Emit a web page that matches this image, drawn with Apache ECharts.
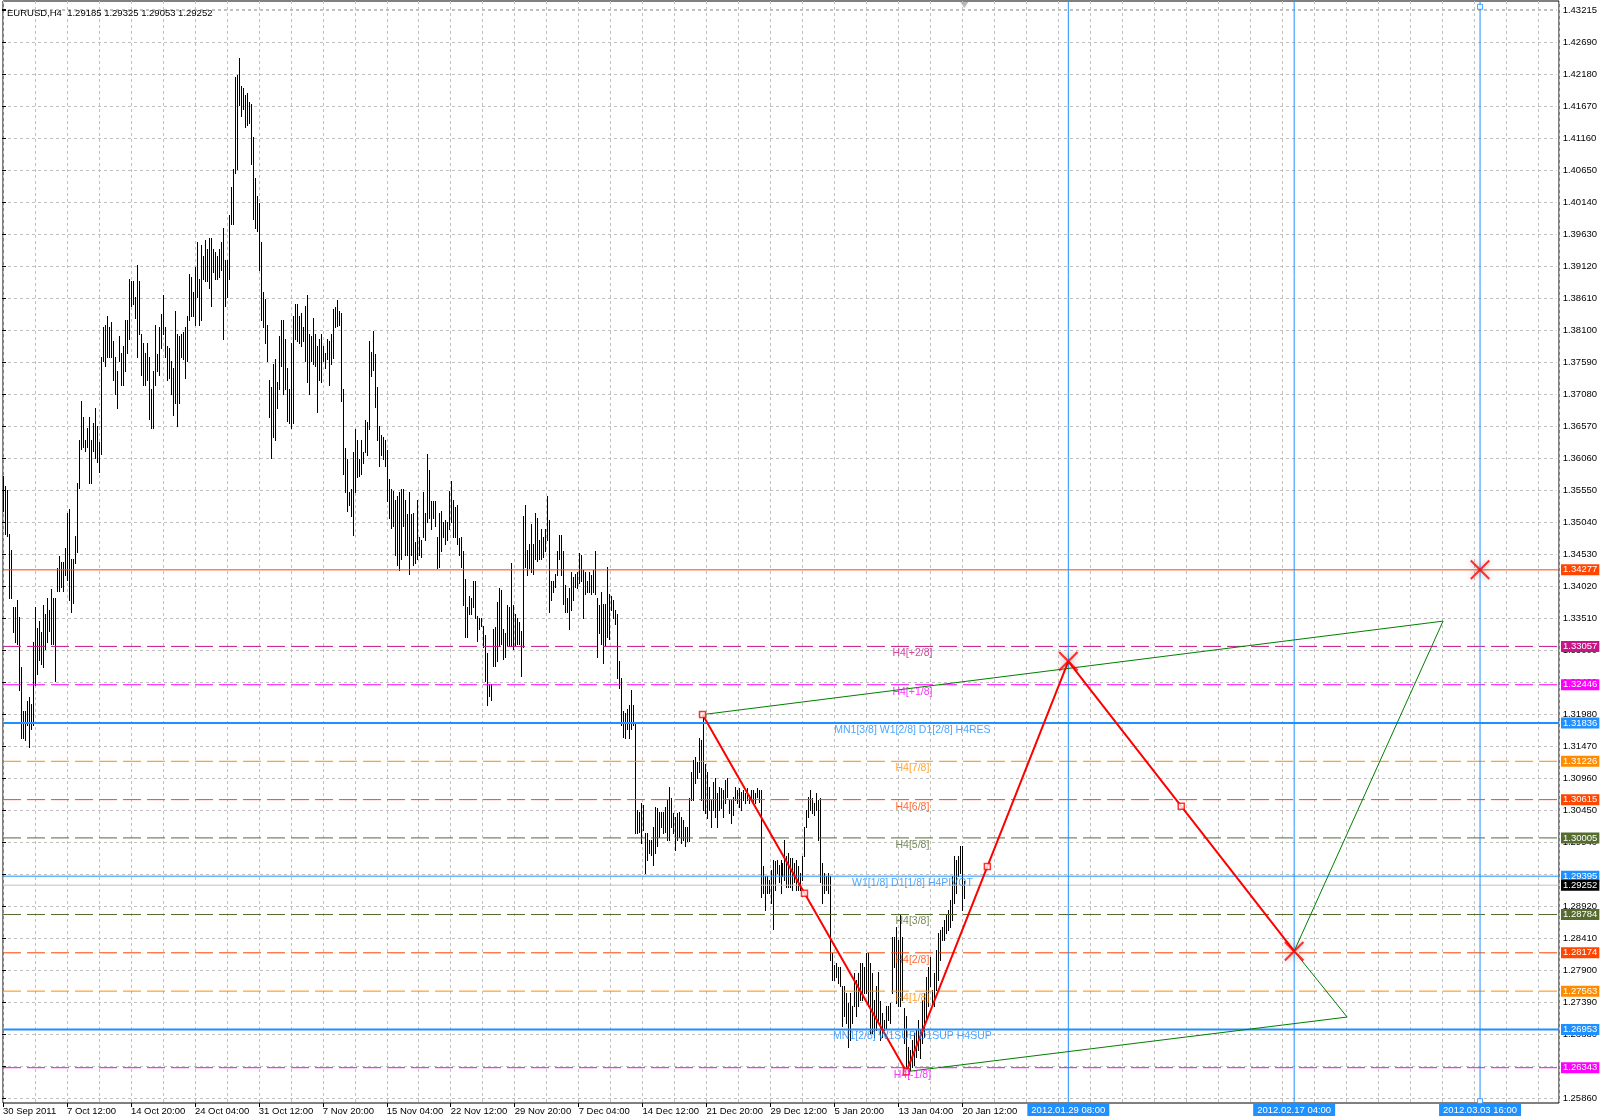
<!DOCTYPE html>
<html><head><meta charset="utf-8">
<script src="https://cdn.jsdelivr.net/npm/echarts@6/dist/echarts.min.js"></script>
<style>html,body{margin:0;padding:0;background:#fff}#c{width:1600px;height:1120px}</style>
</head><body><div id="c"></div>
<script>
const chartTitle = 'EURUSD,H4  1.29185 1.29325 1.29053 1.29252';

const barHigh = [
1.3577,1.3562,1.3555,1.3485,1.3460,1.3368,1.3368,1.3379,1.3353,1.3273,
1.3203,1.3203,1.3218,1.3225,1.3214,1.3313,1.3368,1.3335,1.3346,1.3328,
1.3372,1.3357,1.3383,1.3364,1.3397,1.3383,1.3383,1.3430,1.3449,1.3441,
1.3441,1.3463,1.3518,1.3525,1.3445,1.3445,1.3481,1.3566,1.3635,1.3697,
1.3672,1.3635,1.3654,1.3672,1.3635,1.3661,1.3686,1.3657,1.3632,1.3767,
1.3815,1.3818,1.3833,1.3815,1.3822,1.3793,1.3767,1.3745,1.3800,1.3774,
1.3785,1.3826,1.3826,1.3891,1.3888,1.3888,1.3862,1.3913,1.3888,1.3804,
1.3789,1.3774,1.3789,1.3767,1.3716,1.3745,1.3818,1.3771,1.3815,1.3836,
1.3866,1.3815,1.3785,1.3782,1.3760,1.3749,1.3840,1.3804,1.3800,1.3804,
1.3807,1.3815,1.3833,1.3899,1.3895,1.3870,1.3910,1.3950,1.3891,1.3946,
1.3928,1.3954,1.3939,1.3957,1.3957,1.3939,1.3935,1.3928,1.3939,1.3950,
1.3972,1.3921,1.3921,1.3994,1.4038,1.4067,1.4213,1.4217,1.4244,1.4199,
1.4195,1.4184,1.4188,1.4173,1.4170,1.4118,1.4052,1.4023,1.4012,1.3950,
1.3870,1.3859,1.3818,1.3730,1.3719,1.3756,1.3763,1.3727,1.3800,1.3826,
1.3826,1.3796,1.3749,1.3716,1.3789,1.3833,1.3851,1.3851,1.3833,1.3837,
1.3815,1.3848,1.3866,1.3804,1.3800,1.3829,1.3804,1.3785,1.3796,1.3804,
1.3785,1.3774,1.3796,1.3793,1.3804,1.3843,1.3846,1.3858,1.3840,1.3837,
1.3716,1.3622,1.3604,1.3551,1.3557,1.3616,1.3652,1.3634,1.3604,1.3634,
1.3616,1.3666,1.3663,1.3793,1.3775,1.3808,1.3772,1.3719,1.3657,1.3643,
1.3640,1.3634,1.3619,1.3572,1.3557,1.3554,1.3539,1.3545,1.3551,1.3557,
1.3557,1.3539,1.3516,1.3551,1.3516,1.3519,1.3472,1.3539,1.3480,1.3475,
1.3551,1.3519,1.3613,1.3587,1.3537,1.3537,1.3537,1.3480,1.3519,1.3522,
1.3504,1.3507,1.3504,1.3554,1.3569,1.3539,1.3528,1.3531,1.3478,1.3480,
1.3457,1.3413,1.3368,1.3386,1.3383,1.3410,1.3410,1.3354,1.3351,1.3351,
1.3339,1.3324,1.3295,1.3245,1.3245,1.3333,1.3336,1.3377,1.3398,1.3395,
1.3333,1.3327,1.3371,1.3368,1.3439,1.3371,1.3357,1.3351,1.3345,1.3330,
1.3513,1.3531,1.3460,1.3469,1.3501,1.3469,1.3519,1.3510,1.3475,1.3492,
1.3480,1.3492,1.3545,1.3507,1.3410,1.3410,1.3421,1.3457,1.3483,1.3483,
1.3457,1.3404,1.3383,1.3398,1.3424,1.3416,1.3421,1.3424,1.3454,1.3451,
1.3427,1.3424,1.3410,1.3424,1.3419,1.3427,1.3457,1.3383,1.3371,1.3392,
1.3374,1.3374,1.3433,1.3389,1.3386,1.3380,1.3363,1.3357,1.3283,1.3256,
1.3203,1.3200,1.3206,1.3212,1.3236,1.3212,1.3186,1.3045,1.3042,1.3056,
1.3053,1.3008,1.3008,1.2997,1.2997,1.3018,1.3050,1.3048,1.3042,1.3042,
1.3042,1.3050,1.3061,1.3082,1.3064,1.3040,1.3034,1.3040,1.3042,1.3034,
1.3029,1.3018,1.3018,1.3064,1.3106,1.3125,1.3130,1.3122,1.3159,1.3157,
1.3197,1.3119,1.3106,1.3082,1.3061,1.3090,1.3096,1.3072,1.3082,1.3080,
1.3077,1.3093,1.3096,1.3061,1.3061,1.3066,1.3082,1.3077,1.3080,1.3074,
1.3077,1.3072,1.3080,1.3069,1.3077,1.3077,1.3072,1.3080,1.3077,1.3077,
1.2955,1.2939,1.2939,1.2933,1.2949,1.2965,1.2963,1.2965,1.2957,1.2965,
1.2960,1.2997,1.2971,1.2976,1.2968,1.2968,1.2960,1.2965,1.2955,1.2944,
1.2971,1.3018,1.3045,1.3066,1.3077,1.3064,1.3056,1.3072,1.3061,1.3064,
1.2960,1.2944,1.2939,1.2944,1.2939,1.2817,1.2798,1.2801,1.2795,1.2795,
1.2764,1.2764,1.2753,1.2737,1.2753,1.2732,1.2785,1.2774,1.2785,1.2801,
1.2801,1.2795,1.2817,1.2817,1.2801,1.2785,1.2742,1.2764,1.2787,1.2740,
1.2721,1.2710,1.2732,1.2732,1.2737,1.2843,1.2843,1.2859,1.2838,1.2878,
1.2843,1.2729,1.2716,1.2668,1.2663,1.2679,1.2689,1.2694,1.2710,1.2694,
1.2742,1.2753,1.2779,1.2795,1.2811,1.2758,1.2785,1.2822,1.2849,1.2854,
1.2859,1.2870,1.2880,1.2886,1.2902,1.2939,1.2971,1.2965,1.2971,1.2987,
1.2987,1.29325];

const barLow = [
1.3522,1.3485,1.3481,1.3383,1.3383,1.3328,1.3313,1.3310,1.3236,1.3159,
1.3159,1.3156,1.3181,1.3145,1.3174,1.3181,1.3244,1.3262,1.3284,1.3277,
1.3273,1.3302,1.3313,1.3331,1.3310,1.3310,1.3251,1.3394,1.3394,1.3401,
1.3394,1.3419,1.3412,1.3379,1.3361,1.3375,1.3438,1.3456,1.3558,1.3621,
1.3624,1.3617,1.3624,1.3566,1.3566,1.3617,1.3606,1.3599,1.3584,1.3613,
1.3760,1.3752,1.3767,1.3767,1.3767,1.3730,1.3708,1.3686,1.3760,1.3723,
1.3723,1.3745,1.3774,1.3796,1.3848,1.3851,1.3829,1.3767,1.3804,1.3738,
1.3723,1.3723,1.3730,1.3668,1.3654,1.3654,1.3723,1.3745,1.3738,1.3782,
1.3804,1.3767,1.3730,1.3734,1.3708,1.3675,1.3694,1.3657,1.3694,1.3767,
1.3763,1.3734,1.3760,1.3826,1.3833,1.3833,1.3818,1.3862,1.3818,1.3826,
1.3891,1.3888,1.3888,1.3877,1.3848,1.3902,1.3891,1.3891,1.3895,1.3906,
1.3796,1.3848,1.3862,1.3891,1.3979,1.3979,1.4060,1.4067,1.4169,1.4151,
1.4162,1.4133,1.4137,1.4140,1.4074,1.3987,1.3972,1.3968,1.3906,1.3826,
1.3815,1.3789,1.3760,1.3672,1.3606,1.3639,1.3635,1.3686,1.3716,1.3752,
1.3708,1.3716,1.3665,1.3661,1.3654,1.3661,1.3796,1.3793,1.3789,1.3785,
1.3793,1.3760,1.3727,1.3708,1.3760,1.3756,1.3752,1.3679,1.3730,1.3727,
1.3760,1.3749,1.3763,1.3723,1.3756,1.3766,1.3814,1.3817,1.3818,1.3696,
1.3581,1.3551,1.3522,1.3531,1.3513,1.3483,1.3551,1.3575,1.3578,1.3581,
1.3598,1.3616,1.3610,1.3652,1.3737,1.3746,1.3687,1.3634,1.3593,1.3610,
1.3605,1.3593,1.3537,1.3510,1.3495,1.3498,1.3451,1.3436,1.3427,1.3445,
1.3498,1.3451,1.3451,1.3421,1.3451,1.3436,1.3439,1.3445,1.3451,1.3448,
1.3480,1.3475,1.3504,1.3510,1.3492,1.3510,1.3498,1.3430,1.3433,1.3457,
1.3480,1.3469,1.3475,1.3492,1.3504,1.3480,1.3480,1.3469,1.3451,1.3433,
1.3371,1.3321,1.3321,1.3357,1.3357,1.3368,1.3351,1.3315,1.3333,1.3339,
1.3304,1.3251,1.3212,1.3227,1.3221,1.3274,1.3274,1.3283,1.3307,1.3309,
1.3286,1.3289,1.3307,1.3307,1.3307,1.3301,1.3307,1.3309,1.3309,1.3259,
1.3304,1.3433,1.3419,1.3430,1.3424,1.3421,1.3445,1.3442,1.3445,1.3445,
1.3448,1.3457,1.3475,1.3360,1.3380,1.3392,1.3401,1.3419,1.3445,1.3419,
1.3374,1.3360,1.3360,1.3333,1.3363,1.3380,1.3401,1.3398,1.3407,1.3410,
1.3351,1.3389,1.3392,1.3392,1.3389,1.3392,1.3389,1.3289,1.3327,1.3309,
1.3280,1.3307,1.3321,1.3318,1.3363,1.3351,1.3342,1.3256,1.3239,1.3180,
1.3162,1.3159,1.3174,1.3159,1.3174,1.3180,1.3009,1.3008,1.3010,1.2992,
1.3013,1.2944,1.2965,1.2976,1.2973,1.2957,1.2976,1.2987,1.3002,1.3018,
1.3008,1.3010,1.2997,1.2997,1.3018,1.3008,1.2981,1.2997,1.3002,1.2992,
1.2997,1.2987,1.2995,1.2995,1.3061,1.3061,1.3088,1.3096,1.3106,1.3061,
1.3045,1.3040,1.3032,1.3045,1.3018,1.3045,1.3034,1.3018,1.3045,1.3048,
1.3034,1.3056,1.3066,1.3040,1.3024,1.3037,1.3061,1.3056,1.3050,1.3045,
1.3061,1.3056,1.3061,1.3056,1.3061,1.3058,1.3056,1.3066,1.3058,1.2907,
1.2912,1.2886,1.2912,1.2912,1.2896,1.2856,1.2918,1.2944,1.2931,1.2912,
1.2939,1.2933,1.2923,1.2923,1.2923,1.2918,1.2931,1.2918,1.2918,1.2918,
1.2933,1.2971,1.3018,1.3034,1.3045,1.3040,1.3037,1.3045,1.2997,1.2931,
1.2896,1.2912,1.2918,1.2912,1.2806,1.2774,1.2774,1.2779,1.2769,1.2764,
1.2700,1.2716,1.2705,1.2668,1.2679,1.2705,1.2732,1.2716,1.2732,1.2742,
1.2742,1.2753,1.2753,1.2732,1.2689,1.2689,1.2684,1.2694,1.2710,1.2679,
1.2684,1.2694,1.2697,1.2710,1.2705,1.2753,1.2795,1.2737,1.2732,1.2732,
1.2742,1.2673,1.2628,1.2631,1.2631,1.2636,1.2639,1.2652,1.2663,1.2649,
1.2673,1.2684,1.2710,1.2732,1.2764,1.2732,1.2732,1.2758,1.2774,1.2806,
1.2838,1.2838,1.2849,1.2854,1.2859,1.2870,1.2896,1.2912,1.2939,1.2944,
1.2886,1.29053];

// time axis: one label every 32 H4 bars
const xLabels = ['30 Sep 2011','7 Oct 12:00','14 Oct 20:00','24 Oct 04:00','31 Oct 12:00','7 Nov 20:00',
  '15 Nov 04:00','22 Nov 12:00','29 Nov 20:00','7 Dec 04:00','14 Dec 12:00','21 Dec 20:00',
  '29 Dec 12:00','5 Jan 20:00','13 Jan 04:00','20 Jan 12:00'];
const xLabelStep = 32;
const xGridStep = 16;
const xMaxBar = 778.5;

// price axis
const yTickLabels = ['1.25860','1.26370','1.26880','1.27390','1.27900','1.28410','1.28920','1.29430',
  '1.29940','1.30450','1.30960','1.31470','1.31980','1.32490','1.33000','1.33510','1.34020','1.34530',
  '1.35040','1.35550','1.36060','1.36570','1.37080','1.37590','1.38100','1.38610','1.39120','1.39630',
  '1.40140','1.40650','1.41160','1.41670','1.42180','1.42690','1.43215'];
const yBase = 1.2586;
const yStep = 0.0051;
const yTop = 1.43215;
const yFrameMin = 1.257803;
const yFrameMax = 1.433425;

// horizontal levels
const levelPrices = [1.34277,1.33057,1.32446,1.31836,1.31226,1.30615,1.30005,1.29395,1.29252,1.28784,1.28174,1.27563,1.26953,1.26343];
const levelPriceLabels = ['1.34277','1.33057','1.32446','1.31836','1.31226','1.30615','1.30005','1.29395','1.29252','1.28784','1.28174','1.27563','1.26953','1.26343'];
const levelNames = ['','H4[+2/8]','H4[+1/8]','MN1[3/8] W1[2/8] D1[2/8] H4RES','H4[7/8]','H4[6/8]','H4[5/8]',
  'W1[1/8] D1[1/8] H4PIVOT','','H4[3/8]','H4[2/8]','H4[1/8]','MN1[2/8] W1SUP D1SUP H4SUP','H4[-1/8]'];
const levelColors = ['#ff4500','#c71585','#ff00ff','#1e90ff','#ff8c00','#ff4500','#556b2f','#1e90ff','#c0c0c0','#556b2f','#ff4500','#ff8c00','#1e90ff','#ff00ff'];
const levelTagColors = ['#ff4500','#c71585','#ff00ff','#1e90ff','#ff8c00','#ff4500','#556b2f','#1e90ff','#000000','#556b2f','#ff4500','#ff8c00','#1e90ff','#ff00ff'];
const levelDashed = [false,true,true,false,true,true,true,false,false,true,true,true,false,true];
const levelWidths = [1,1,1,2,1,1,1,1,1,1,1,1,2,1];
const levelNameBar = 455;

// vertical time lines
const vLineBars = [533, 646, 739];
const vLineLabels = ['2012.01.29 08:00','2012.02.17 04:00','2012.03.03 16:00'];
const vHandlePrices = [1.4325, 1.2581];

// ABCD zigzag
const zigBars = [350, 452, 533, 646];
const zigPrices = [1.3197, 1.2628, 1.3282, 1.2820];
// green triangles
const greenUpperBars = [350, 720.5, 646];
const greenUpperPrices = [1.3197, 1.3346, 1.2820];
const greenLowerBars = [646, 672.5, 452];
const greenLowerPrices = [1.2820, 1.2715, 1.2628];
// extra target cross
const targetBar = 739;
const targetPrice = 1.34277;
// chart shift marker
const shiftBar = 481;
const shiftPrice = 1.4328;

const FONT = 'Liberation Sans';
const barData = barHigh.map((h, i) => [i, h, barLow[i]]);

function renderBar(params, api) {
  const i = api.value(0);
  const top = api.coord([i, api.value(1)]);
  const bot = api.coord([i, api.value(2)]);
  const x = Math.round(top[0]) + 0.5;
  return {type: 'line', shape: {x1: x, y1: Math.round(top[1]), x2: x, y2: Math.round(bot[1]) + 1},
    style: {stroke: '#000', lineWidth: 1}};
}

// each horizontal level: its own line series across the full time span
const levelSeries = levelPrices.map((p, k) => ({
  type: 'line', name: 'level' + k, xAxisIndex: 0, yAxisIndex: 0, symbol: 'none', silent: true, z: 3,
  data: [[0, p], [xMaxBar, p]],
  lineStyle: {color: levelColors[k], width: levelWidths[k], type: levelDashed[k] ? [18, 6] : 'solid'},
  endLabel: {show: true, distance: 2, formatter: levelPriceLabels[k], color: '#fff',
    backgroundColor: levelTagColors[k], padding: [1, 2, 0, 2], fontSize: 9.5, lineHeight: 10, fontFamily: FONT}
}));

// vertical time lines as two-point line series
const vLineSeries = vLineBars.map((b, j) => ({
  type: 'line', name: 'vline' + j, xAxisIndex: 0, yAxisIndex: 0, symbol: 'none', silent: true, z: 3,
  data: [[b, yFrameMin], [b, yFrameMax]],
  lineStyle: {color: '#1e90ff', width: 1},
  markPoint: {silent: true, symbol: 'rect', symbolSize: 0, animation: false,
    data: [{coord: [b, yFrameMin],
      label: {show: true, position: 'bottom', distance: 0, formatter: vLineLabels[j], color: '#fff',
        backgroundColor: '#1e90ff', padding: [2, 4, 1, 4], fontSize: 9.5, fontFamily: FONT}}]}
}));

const nameData = [];
levelNames.forEach((n, k) => {
  if (n) nameData.push({value: [levelNameBar, levelPrices[k]], label: {formatter: n, color: levelColors[k]}});
});

const zigData = zigBars.map((b, i) => [b, zigPrices[i]]);
const mid = (a, b) => [(a[0] + b[0]) / 2, (a[1] + b[1]) / 2];
const squareData = [zigData[0], mid(zigData[0], zigData[1]), zigData[1], mid(zigData[1], zigData[2]), mid(zigData[2], zigData[3])];
const crossData = [zigData[2], zigData[3], [targetBar, targetPrice]];

const X_PATH = 'path://M1.5,0 L10,8.5 L18.5,0 L20,1.5 L11.5,10 L20,18.5 L18.5,20 L10,11.5 L1.5,20 L0,18.5 L8.5,10 L0,1.5 Z';

const chart = echarts.init(document.getElementById('c'), null, {renderer: 'canvas'});
chart.setOption({
  animation: false,
  backgroundColor: '#ffffff',
  textStyle: {fontFamily: FONT},
  title: {text: chartTitle, left: 7, top: 8, padding: 0,
    textStyle: {fontSize: 9.5, fontWeight: 'normal', color: '#000', fontFamily: FONT}},
  grid: [
    {left: 2, right: 41, top: 1, bottom: 17, show: true, borderColor: '#000', borderWidth: 1, backgroundColor: 'transparent'},
    {left: 2, right: 41, top: 9, bottom: 22, show: false}
  ],
  xAxis: [
    {gridIndex: 0, type: 'value', position: 'top', min: 0, max: xMaxBar, interval: xGridStep,
      axisLine: {show: false}, axisTick: {show: false}, axisLabel: {show: false},
      splitLine: {show: true, lineStyle: {color: '#c0c0c0', width: 1, type: [3, 3]}}},
    {gridIndex: 0, type: 'value', position: 'bottom', min: 0, max: xMaxBar, interval: xLabelStep,
      axisLine: {show: false},
      axisTick: {show: true, length: 4, lineStyle: {color: '#000'}, customValues: xLabels.map((_, k) => k * xLabelStep)},
      axisLabel: {show: true, customValues: xLabels.map((_, k) => k * xLabelStep), align: 'left', margin: 3,
        fontSize: 9.5, color: '#000', fontFamily: FONT,
        formatter: v => { const k = Math.round(v / xLabelStep); return (Math.abs(v - k * xLabelStep) < 1e-6 && k < xLabels.length) ? xLabels[k] : ''; }},
      splitLine: {show: false}},
    {gridIndex: 1, type: 'value', min: 0, max: 1, show: false}
  ],
  yAxis: [
    {gridIndex: 0, type: 'value', position: 'left', min: yFrameMin, max: yFrameMax, show: false, splitLine: {show: false}},
    {gridIndex: 1, type: 'value', position: 'right', min: 0, max: +(yTop - yBase).toFixed(5), interval: yStep,
      axisLine: {show: false},
      axisTick: {show: true, length: 4, lineStyle: {color: '#000'}},
      axisLabel: {show: true, margin: 6, fontSize: 9.5, color: '#000', fontFamily: FONT,
        formatter: v => { const k = Math.round(v / yStep); return (Math.abs(v - k * yStep) < 1e-7 && k < yTickLabels.length) ? yTickLabels[k] : ''; }},
      splitLine: {show: true, lineStyle: {color: '#c0c0c0', width: 1, type: [3, 3]}}}
  ],
  series: [
    {type: 'custom', name: 'bars', xAxisIndex: 0, yAxisIndex: 0, data: barData, renderItem: renderBar,
      encode: {x: 0, y: [1, 2]}, z: 2, silent: true},
    ...levelSeries,
    ...vLineSeries,
    {type: 'line', name: 'greenUpper', xAxisIndex: 0, yAxisIndex: 0, symbol: 'none', z: 4, silent: true,
      data: greenUpperBars.map((b, i) => [b, greenUpperPrices[i]]), lineStyle: {color: '#008000', width: 1}},
    {type: 'line', name: 'greenLower', xAxisIndex: 0, yAxisIndex: 0, symbol: 'none', z: 4, silent: true,
      data: greenLowerBars.map((b, i) => [b, greenLowerPrices[i]]), lineStyle: {color: '#008000', width: 1}},
    {type: 'line', name: 'zigzag', xAxisIndex: 0, yAxisIndex: 0, symbol: 'none', z: 5, silent: true,
      data: zigData, lineStyle: {color: '#ff0000', width: 2}},
    {type: 'scatter', name: 'squares', xAxisIndex: 0, yAxisIndex: 0, z: 6, silent: true, symbol: 'rect', symbolSize: 6,
      data: squareData, itemStyle: {color: '#ffffff', borderColor: '#ff0000', borderWidth: 1.5}},
    {type: 'scatter', name: 'crosses', xAxisIndex: 0, yAxisIndex: 0, z: 7, silent: true, symbol: X_PATH, symbolSize: 20,
      data: crossData, itemStyle: {color: '#ff0000', shadowBlur: 6, shadowColor: 'rgba(90,0,0,0.45)'}},
    {type: 'scatter', name: 'handles', xAxisIndex: 0, yAxisIndex: 0, z: 6, silent: true, symbol: 'rect', symbolSize: 5,
      data: vHandlePrices.map(p => [vLineBars[2], p]), itemStyle: {color: '#ffffff', borderColor: '#1e90ff', borderWidth: 1}},
    {type: 'scatter', name: 'shift', xAxisIndex: 0, yAxisIndex: 0, z: 6, silent: true, symbol: 'triangle', symbolRotate: 180,
      symbolSize: [8, 6], data: [[shiftBar, shiftPrice]], itemStyle: {color: '#a8a8a8'}},
    {type: 'scatter', name: 'levelNames', xAxisIndex: 0, yAxisIndex: 0, z: 6, silent: true, symbolSize: 1,
      itemStyle: {color: 'rgba(0,0,0,0)'}, data: nameData,
      label: {show: true, position: 'bottom', distance: 1, fontSize: 10.5, fontFamily: FONT}}
  ]
});
</script>
</body></html>
